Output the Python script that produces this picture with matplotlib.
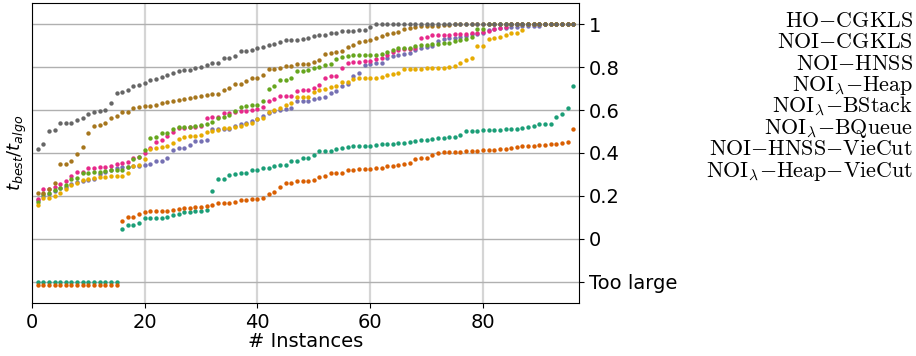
import numpy as np
import matplotlib
matplotlib.use("Agg")
import matplotlib.pyplot as plt

# instances 1..96, values are t_best/t_algo (too large -> plotted below 0)
instances = np.arange(1, 97)

ho_cgkls = [-0.2] * 15 + [
    0.047, 0.062, 0.062, 0.073, 0.095, 0.096, 0.096, 0.098, 0.101, 0.109,
    0.115, 0.123, 0.124, 0.129, 0.131, 0.132, 0.224, 0.277, 0.277, 0.295,
    0.303, 0.305, 0.308, 0.322, 0.322, 0.328, 0.331, 0.339, 0.344, 0.344,
    0.361, 0.364, 0.376, 0.376, 0.392, 0.407, 0.407, 0.407, 0.417, 0.423,
    0.428, 0.431, 0.432, 0.432, 0.432, 0.437, 0.442, 0.442, 0.443, 0.445,
    0.446, 0.451, 0.457, 0.459, 0.462, 0.465, 0.468, 0.470, 0.473, 0.473,
    0.485, 0.501, 0.502, 0.504, 0.505, 0.505, 0.507, 0.509, 0.510, 0.512,
    0.512, 0.518, 0.519, 0.527, 0.533, 0.537, 0.537, 0.569, 0.582, 0.608,
    0.712]

noi_cgkls = [-0.215] * 15 + [
    0.082, 0.100, 0.100, 0.115, 0.124, 0.129, 0.129, 0.129, 0.131, 0.132,
    0.140, 0.142, 0.143, 0.148, 0.149, 0.151, 0.157, 0.166, 0.168, 0.168,
    0.173, 0.179, 0.180, 0.185, 0.187, 0.191, 0.210, 0.218, 0.240, 0.258,
    0.258, 0.267, 0.267, 0.267, 0.274, 0.289, 0.291, 0.305, 0.306, 0.308,
    0.319, 0.320, 0.325, 0.327, 0.327, 0.330, 0.330, 0.337, 0.337, 0.345,
    0.348, 0.353, 0.370, 0.375, 0.378, 0.392, 0.401, 0.403, 0.404, 0.406,
    0.406, 0.407, 0.407, 0.411, 0.412, 0.412, 0.415, 0.418, 0.420, 0.421,
    0.428, 0.431, 0.431, 0.434, 0.437, 0.439, 0.442, 0.443, 0.445, 0.453,
    0.513]

noi_hnss = [
    0.180, 0.200, 0.210, 0.220, 0.235, 0.240, 0.255, 0.265, 0.270, 0.275,
    0.280, 0.300, 0.310, 0.320, 0.330, 0.335, 0.335, 0.337, 0.340, 0.344,
    0.347, 0.361, 0.364, 0.376, 0.412, 0.423, 0.425, 0.437, 0.456, 0.457,
    0.462, 0.510, 0.513, 0.513, 0.513, 0.526, 0.537, 0.541, 0.551, 0.558,
    0.572, 0.586, 0.597, 0.600, 0.607, 0.610, 0.641, 0.641, 0.644, 0.653,
    0.658, 0.661, 0.681, 0.690, 0.711, 0.720, 0.757, 0.771, 0.810, 0.813,
    0.821, 0.821, 0.843, 0.854, 0.855, 0.862, 0.866, 0.882, 0.888, 0.893,
    0.897, 0.922, 0.933, 0.936, 0.938, 0.939, 0.946, 0.953, 0.955, 0.961,
    0.975, 0.980, 0.984, 0.984, 0.988, 0.988, 0.990, 0.990, 0.990, 0.990,
    1.0, 1.0, 1.0, 1.0, 1.0, 1.0]

noi_l_heap = [
    0.187, 0.233, 0.233, 0.241, 0.255, 0.268, 0.294, 0.309, 0.313, 0.328,
    0.331, 0.333, 0.334, 0.339, 0.347, 0.355, 0.358, 0.376, 0.380, 0.400,
    0.423, 0.449, 0.461, 0.477, 0.499, 0.515, 0.518, 0.520, 0.523, 0.525,
    0.565, 0.568, 0.568, 0.586, 0.586, 0.592, 0.596, 0.597, 0.599, 0.607,
    0.614, 0.644, 0.652, 0.664, 0.664, 0.667, 0.689, 0.695, 0.695, 0.703,
    0.717, 0.750, 0.759, 0.760, 0.798, 0.821, 0.823, 0.826, 0.827, 0.830,
    0.840, 0.844, 0.858, 0.871, 0.880, 0.883, 0.885, 0.888, 0.935, 0.939,
    0.949, 0.952, 0.952, 0.952, 0.955, 0.955, 0.956, 0.958, 0.960, 0.964,
    0.970, 0.978, 0.984, 0.988, 1.0, 1.0, 1.0, 1.0, 1.0, 1.0,
    1.0, 1.0, 1.0, 1.0, 1.0, 1.0]

noi_l_bstack = [
    0.171, 0.210, 0.215, 0.225, 0.234, 0.249, 0.278, 0.285, 0.308, 0.308,
    0.311, 0.311, 0.317, 0.320, 0.322, 0.322, 0.336, 0.371, 0.383, 0.414,
    0.470, 0.476, 0.492, 0.495, 0.512, 0.519, 0.521, 0.523, 0.527, 0.529,
    0.533, 0.543, 0.565, 0.566, 0.579, 0.594, 0.614, 0.619, 0.622, 0.622,
    0.641, 0.698, 0.711, 0.742, 0.742, 0.748, 0.782, 0.784, 0.789, 0.796,
    0.801, 0.810, 0.813, 0.837, 0.848, 0.851, 0.855, 0.855, 0.855, 0.855,
    0.857, 0.860, 0.869, 0.880, 0.888, 0.890, 0.890, 0.900, 0.902, 0.902,
    0.907, 0.908, 0.911, 0.914, 0.922, 0.925, 0.930, 0.941, 0.980, 0.980,
    1.0, 1.0, 1.0, 1.0, 1.0, 1.0, 1.0, 1.0, 1.0, 1.0,
    1.0, 1.0, 1.0, 1.0, 1.0, 1.0]

noi_l_bqueue = [
    0.157, 0.188, 0.191, 0.197, 0.213, 0.231, 0.252, 0.260, 0.274, 0.280,
    0.283, 0.286, 0.288, 0.291, 0.291, 0.293, 0.305, 0.339, 0.342, 0.372,
    0.417, 0.421, 0.429, 0.431, 0.446, 0.467, 0.474, 0.479, 0.480, 0.482,
    0.498, 0.502, 0.507, 0.515, 0.518, 0.523, 0.527, 0.533, 0.541, 0.557,
    0.563, 0.591, 0.599, 0.610, 0.625, 0.635, 0.663, 0.663, 0.663, 0.683,
    0.692, 0.698, 0.709, 0.712, 0.733, 0.733, 0.747, 0.748, 0.748, 0.750,
    0.751, 0.753, 0.764, 0.770, 0.774, 0.790, 0.792, 0.792, 0.793, 0.795,
    0.796, 0.798, 0.798, 0.799, 0.804, 0.818, 0.834, 0.841, 0.897, 0.897,
    0.930, 0.936, 0.939, 0.952, 0.960, 0.961, 0.972, 1.0, 1.0, 1.0,
    1.0, 1.0, 1.0, 1.0, 1.0, 1.0]

noi_hnss_viecut = [
    0.213, 0.213, 0.232, 0.258, 0.347, 0.348, 0.360, 0.395, 0.428, 0.493,
    0.527, 0.529, 0.541, 0.561, 0.574, 0.589, 0.589, 0.611, 0.614, 0.619,
    0.619, 0.625, 0.631, 0.636, 0.642, 0.649, 0.653, 0.656, 0.659, 0.666,
    0.670, 0.673, 0.677, 0.694, 0.704, 0.720, 0.722, 0.734, 0.751, 0.751,
    0.764, 0.792, 0.792, 0.795, 0.806, 0.806, 0.813, 0.815, 0.815, 0.823,
    0.835, 0.863, 0.865, 0.872, 0.877, 0.893, 0.902, 0.919, 0.921, 0.928,
    0.938, 0.947, 0.955, 0.961, 0.966, 0.978, 0.983, 0.988, 0.990, 0.990,
    0.994, 0.994, 0.996, 0.998, 1.0, 1.0, 1.0, 1.0, 1.0, 1.0,
    1.0, 1.0, 1.0, 1.0, 1.0, 1.0, 1.0, 1.0, 1.0, 1.0,
    1.0, 1.0, 1.0, 1.0, 1.0, 1.0]

noi_l_heap_viecut = [
    0.420, 0.440, 0.504, 0.505, 0.538, 0.540, 0.541, 0.552, 0.563, 0.582,
    0.593, 0.597, 0.599, 0.631, 0.680, 0.686, 0.694, 0.714, 0.717, 0.728,
    0.739, 0.746, 0.756, 0.764, 0.773, 0.781, 0.785, 0.787, 0.798, 0.800,
    0.810, 0.818, 0.820, 0.843, 0.845, 0.851, 0.874, 0.876, 0.879, 0.890,
    0.893, 0.904, 0.910, 0.916, 0.925, 0.925, 0.928, 0.932, 0.938, 0.944,
    0.949, 0.950, 0.960, 0.961, 0.969, 0.969, 0.970, 0.974, 0.974, 0.989,
    1.0, 1.0, 1.0, 1.0, 1.0, 1.0, 1.0, 1.0, 1.0, 1.0,
    1.0, 1.0, 1.0, 1.0, 1.0, 1.0, 1.0, 1.0, 1.0, 1.0,
    1.0, 1.0, 1.0, 1.0, 1.0, 1.0, 1.0, 1.0, 1.0, 1.0,
    1.0, 1.0, 1.0, 1.0, 1.0, 1.0]

labels = [
    r"$\mathrm{HO{-}CGKLS}$",
    r"$\mathrm{NOI{-}CGKLS}$",
    r"$\mathrm{NOI{-}HNSS}$",
    r"$\mathrm{NOI_{\lambda}{-}Heap}$",
    r"$\mathrm{NOI_{\lambda}{-}BStack}$",
    r"$\mathrm{NOI_{\lambda}{-}BQueue}$",
    r"$\mathrm{NOI{-}HNSS{-}VieCut}$",
    r"$\mathrm{NOI_{\lambda}{-}Heap{-}VieCut}$",
]
series = [ho_cgkls, noi_cgkls, noi_hnss, noi_l_heap,
          noi_l_bstack, noi_l_bqueue, noi_hnss_viecut, noi_l_heap_viecut]
colors = plt.get_cmap("Dark2").colors

ytick_pos = [-0.2, 0, 0.2, 0.4, 0.6, 0.8, 1.0]
ytick_labels = ["Too large", "0", "0.2", "0.4", "0.6", "0.8", "1"]

fig = plt.figure(figsize=(9.16, 3.56), dpi=100)
ax = fig.add_axes([0.0349, 0.149, 0.597, 0.843])

for vals, col in zip(series, colors):
    ax.scatter(instances, vals, s=10, color=col, linewidths=0, zorder=3)

ax.set_xlim(0, 97)
ax.set_ylim(-0.3, 1.1)
ax.set_xticks([0, 20, 40, 60, 80])
ax.yaxis.tick_right()
ax.set_yticks(ytick_pos)
ax.set_yticklabels(ytick_labels)
ax.tick_params(labelsize=14)
ax.xaxis.grid(True, color="#d5d5d5", linewidth=1.6)
ax.yaxis.grid(True, color="#b0b0b0", linewidth=1.0)
ax.set_axisbelow(True)
ax.set_xlabel("# Instances", fontsize=14, labelpad=0)
ax.set_ylabel(r"$t_{best}/t_{algo}$", fontsize=13, labelpad=2)
ax.yaxis.set_label_position("left")

# legend text only, right aligned
for k, lab in enumerate(labels):
    fig.text(913 / 916, 1 - (26.7 + 21.4 * k) / 356, lab, ha="right",
             va="baseline", fontsize=15.9, math_fontfamily="cm")

fig.savefig("out.png", dpi=100)
